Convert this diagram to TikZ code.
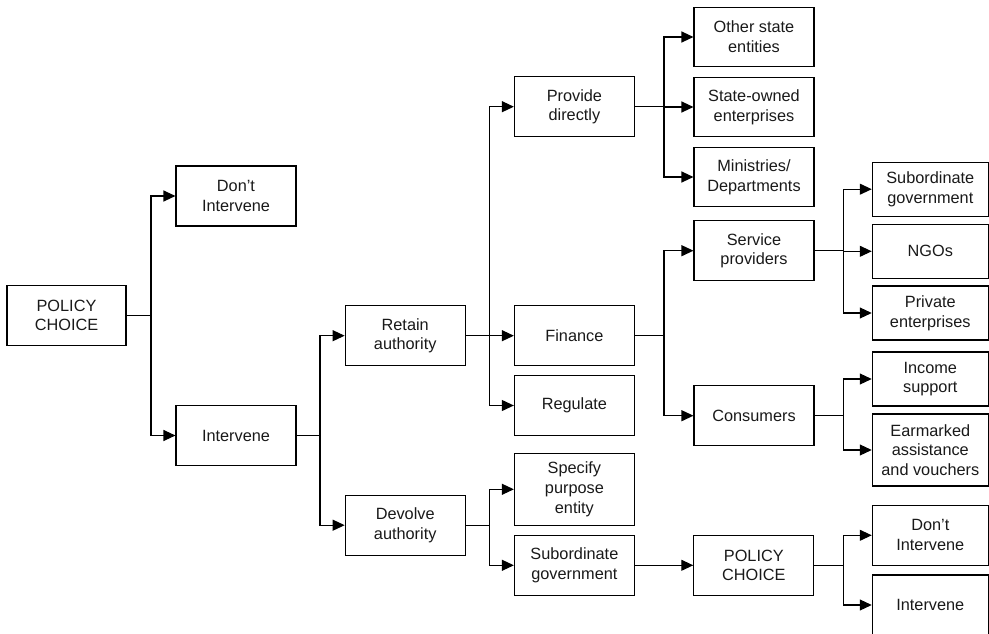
\documentclass[tikz,border=0pt]{standalone}
\usepackage{fontspec}
\setmainfont{Liberation Sans}
\usetikzlibrary{arrows.meta}
\begin{document}
\begin{tikzpicture}[x=1pt,y=-1pt,
  box/.style={draw, line width=1.1pt, minimum width=120pt, minimum height=60pt,
    inner sep=0pt, align=center, font=\fontsize{16.3}{19.7}\selectfont, text=black!90},
  rbox/.style={box, minimum width=116pt, minimum height=54pt},
  conn/.style={line width=1.1pt},
  arr/.style={conn, -{Triangle[length=12pt,width=11pt]}}]
\useasboundingbox (0,0) rectangle (989,634);
% column 1-2
\node[box, minimum width=119pt] (pc) at (66.5,315.5) {POLICY\\CHOICE};
\node[box] (dont) at (236,196) {Don’t\\Intervene};
\node[box] (int) at (236,435.5) {Intervene};
% column 3
\node[box] (ret) at (405.2,335.7) {Retain\\authority};
\node[box] (dev) at (405.2,525.2) {Devolve\\authority};
% column 4
\node[box] (prov) at (574.4,106.7) {Provide\\directly};
\node[box] (fin) at (574.4,335.7) {Finance};
\node[box] (reg) at (574.4,405.5) {Regulate};
\node[box, minimum height=72pt] (spec) at (574.4,489.3) {Specify\\purpose\\entity};
\node[box] (sub) at (574.4,565.3) {Subordinate\\government};
% column 5
\node[box, minimum height=59.4pt] (other) at (754,37) {Other state\\entities};
\node[box, minimum height=59.4pt] (soe) at (754,107) {State-owned\\enterprises};
\node[box, minimum height=59.4pt] (mins) at (754,177) {Ministries/\\Departments};
\node[box] (serv) at (754,250.7) {Service\\providers};
\node[box] (cons) at (754,415.7) {Consumers};
\node[box] (pc2) at (753.8,565.3) {POLICY\\CHOICE};
% column 6
\node[rbox] (subg) at (930.3,189.2) {Subordinate\\government};
\node[rbox] (ngo) at (930.3,251.3) {NGOs};
\node[rbox] (priv) at (930.3,313) {Private\\enterprises};
\node[rbox] (inc) at (930.3,379) {Income\\support};
\node[rbox, minimum height=72pt] (ear) at (930.3,450) {Earmarked\\assistance\\and vouchers};
\node[rbox, minimum height=60pt] (dont2) at (930.3,535.3) {Don’t\\Intervene};
\node[rbox, minimum height=60pt] (int2) at (930.3,605) {Intervene};
% junctions
\coordinate (j1) at (151,315.5);
\coordinate (j2) at (320,435.5);
\coordinate (j3) at (489.7,335.7);
\coordinate (j4) at (489.7,525.2);
\coordinate (j5) at (664,106.7);
\coordinate (j6) at (664,335.7);
\coordinate (j7) at (843.3,250.7);
\coordinate (j8) at (843.3,415.7);
\coordinate (j9) at (843.3,565.3);
% connectors
\draw[conn] (pc) -- (j1);
\draw[arr] (j1) |- (dont.west);
\draw[arr] (j1) |- (int.west);
\draw[conn] (int) -- (j2);
\draw[arr] (j2) |- (ret.west);
\draw[arr] (j2) |- (dev.west);
\draw[conn] (ret) -- (j3);
\draw[arr] (j3) |- (prov.west);
\draw[arr] (j3) -- (fin.west);
\draw[arr] (j3) |- (reg.west);
\draw[conn] (dev) -- (j4);
\draw[arr] (j4) |- (spec.west);
\draw[arr] (j4) |- (sub.west);
\draw[conn] (prov) -- (j5);
\draw[arr] (j5) |- (other.west);
\draw[arr] (j5) |- (soe.west);
\draw[arr] (j5) |- (mins.west);
\draw[conn] (fin) -- (j6);
\draw[arr] (j6) |- (serv.west);
\draw[arr] (j6) |- (cons.west);
\draw[conn] (serv) -- (j7);
\draw[arr] (j7) |- (subg.west);
\draw[arr] (j7) |- (ngo.west);
\draw[arr] (j7) |- (priv.west);
\draw[conn] (cons) -- (j8);
\draw[arr] (j8) |- (inc.west);
\draw[arr] (j8) |- (ear.west);
\draw[arr] (sub) -- (pc2);
\draw[conn] (pc2) -- (j9);
\draw[arr] (j9) |- (dont2.west);
\draw[arr] (j9) |- (int2.west);
\end{tikzpicture}
\end{document}
